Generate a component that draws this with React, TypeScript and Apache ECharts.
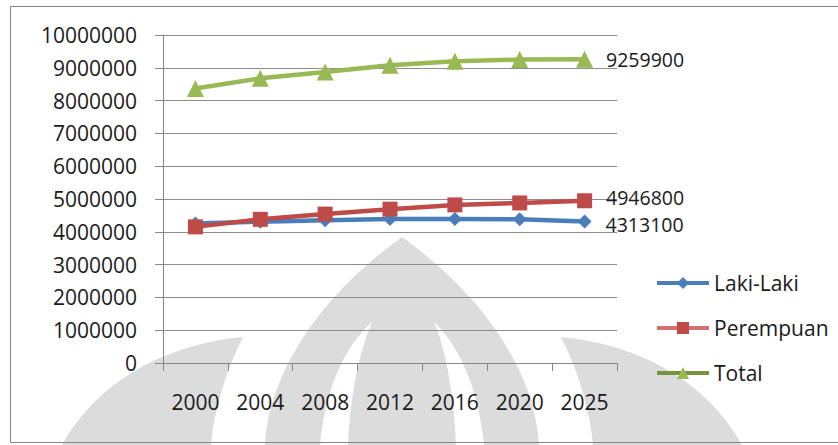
import React, { useEffect, useRef } from "react";
import * as echarts from "echarts";

const years = ["2000", "2004", "2008", "2012", "2016", "2020", "2025"];
const lakiLaki = [4250000, 4310000, 4350000, 4390000, 4390000, 4380000, 4313100];
const perempuan = [4150000, 4380000, 4540000, 4690000, 4820000, 4880000, 4946800];
const total = [8370000, 8680000, 8870000, 9080000, 9200000, 9250000, 9259900];
const seriesNames = ["Laki-Laki", "Perempuan", "Total"];

const FONT = "'Open Sans', 'Noto Sans', sans-serif";
const TEXT = "#1a1a1a";
const AXIS = "#868686";

const grayD =
  "M 265 445 C 270 360 335 285 402 237 C 469 285 534 360 539 445 Z " +
  "M 62 445 C 95 385 160 345 243 337 C 226 370 214 410 211 445 Z " +
  "M 742 445 C 709 385 644 345 561 337 C 578 370 590 410 593 445 Z";
const whiteD =
  "M 320 445 C 325 390 345 345 372 322 C 360 350 350 395 348 445 Z " +
  "M 484 445 C 479 390 459 345 434 322 C 446 350 454 395 456 445 Z";

let registered = false;
function registerShapes() {
  if (registered) return;
  registered = true;
  echarts.graphic.registerShape("wmGray", echarts.graphic.extendPath(grayD, {}) as any);
  echarts.graphic.registerShape("wmWhite", echarts.graphic.extendPath(whiteD, {}) as any);
}

function lastLabelData(values: number[]) {
  return values.map((v, i) => ({
    value: v,
    label: { show: i === values.length - 1 },
  }));
}

export default function App() {
  const ref = useRef<HTMLDivElement>(null);
  useEffect(() => {
    if (!ref.current) return;
    registerShapes();
    const chart = echarts.init(ref.current, undefined, { renderer: "svg" });
    const labelStyle = {
      position: "right",
      fontSize: 19.5,
      lineHeight: 18,
      fontFamily: FONT,
      color: TEXT,
      formatter: (p: any) => String(p.value),
    };
    chart.setOption({
      animation: false,
      textStyle: { fontFamily: FONT },
      graphic: [
        { type: "wmGray", x: 0, y: 0, z: -20, style: { fill: "#dcdcdc" }, silent: true },
        { type: "wmWhite", x: 0, y: 0, z: -19, style: { fill: "#ffffff" }, silent: true },
        {
          type: "rect",
          z: -18,
          shape: { x: 10.5, y: 6.5, width: 840, height: 436 },
          style: { fill: "none", stroke: AXIS, lineWidth: 1 },
          silent: true,
        },
      ],
      grid: { left: 163, right: 221, top: 35, bottom: 82, containLabel: false },
      legend: {
        orient: "vertical",
        left: 650,
        top: 267,
        itemWidth: 52,
        itemHeight: 15,
        itemGap: 23,
        lineStyle: { width: 4 },
        data: [
          { name: seriesNames[0] },
          { name: seriesNames[1], lineStyle: { color: "#D07370", width: 4 } },
          { name: seriesNames[2], lineStyle: { color: "#77933C", width: 4 } },
        ],
        textStyle: { fontSize: 21, fontFamily: FONT, color: TEXT, lineHeight: 22 },
      },
      xAxis: {
        type: "category",
        data: years,
        boundaryGap: true,
        axisLine: { show: true, lineStyle: { color: AXIS, width: 1 } },
        axisTick: { show: true, interval: 0, length: 8, lineStyle: { color: AXIS } },
        axisLabel: { interval: 0, fontSize: 21, fontFamily: FONT, color: TEXT, margin: 28 },
        splitLine: { show: false },
      },
      yAxis: {
        type: "value",
        min: 0,
        max: 10000000,
        interval: 1000000,
        axisLine: { show: true, lineStyle: { color: AXIS, width: 1 } },
        axisTick: { show: true, length: 8, lineStyle: { color: AXIS } },
        axisLabel: {
          fontSize: 21,
          fontFamily: FONT,
          color: TEXT,
          margin: 26,
          formatter: (v: number) => String(v),
        },
        splitLine: { show: true, lineStyle: { color: "#8c8c8c", width: 1 } },
      },
      series: [
        {
          name: seriesNames[0],
          type: "line",
          data: lastLabelData(lakiLaki),
          symbol: "diamond",
          symbolSize: 14,
          showAllSymbol: true,
          lineStyle: { color: "#4A7EBB", width: 4.5 },
          itemStyle: { color: "#4A7EBB" },
          label: { ...labelStyle, show: false, distance: 14, offset: [0, 3] },
          z: 3,
        },
        {
          name: seriesNames[1],
          type: "line",
          data: lastLabelData(perempuan),
          symbol: "rect",
          symbolSize: 15,
          showAllSymbol: true,
          lineStyle: { color: "#BE4B48", width: 4.5 },
          itemStyle: { color: "#BE4B48" },
          label: { ...labelStyle, show: false, distance: 14, offset: [0, -3] },
          z: 4,
        },
        {
          name: seriesNames[2],
          type: "line",
          data: lastLabelData(total),
          symbol: "triangle",
          symbolSize: 17,
          showAllSymbol: true,
          lineStyle: { color: "#98B954", width: 4.5 },
          itemStyle: { color: "#98B954" },
          label: { ...labelStyle, show: false, distance: 13 },
          z: 5,
        },
      ],
    });
    return () => chart.dispose();
  }, []);
  return (
    <div
      ref={ref}
      style={{ position: "absolute", left: 0, top: 0, width: 838, height: 445, background: "#ffffff" }}
    />
  );
}
